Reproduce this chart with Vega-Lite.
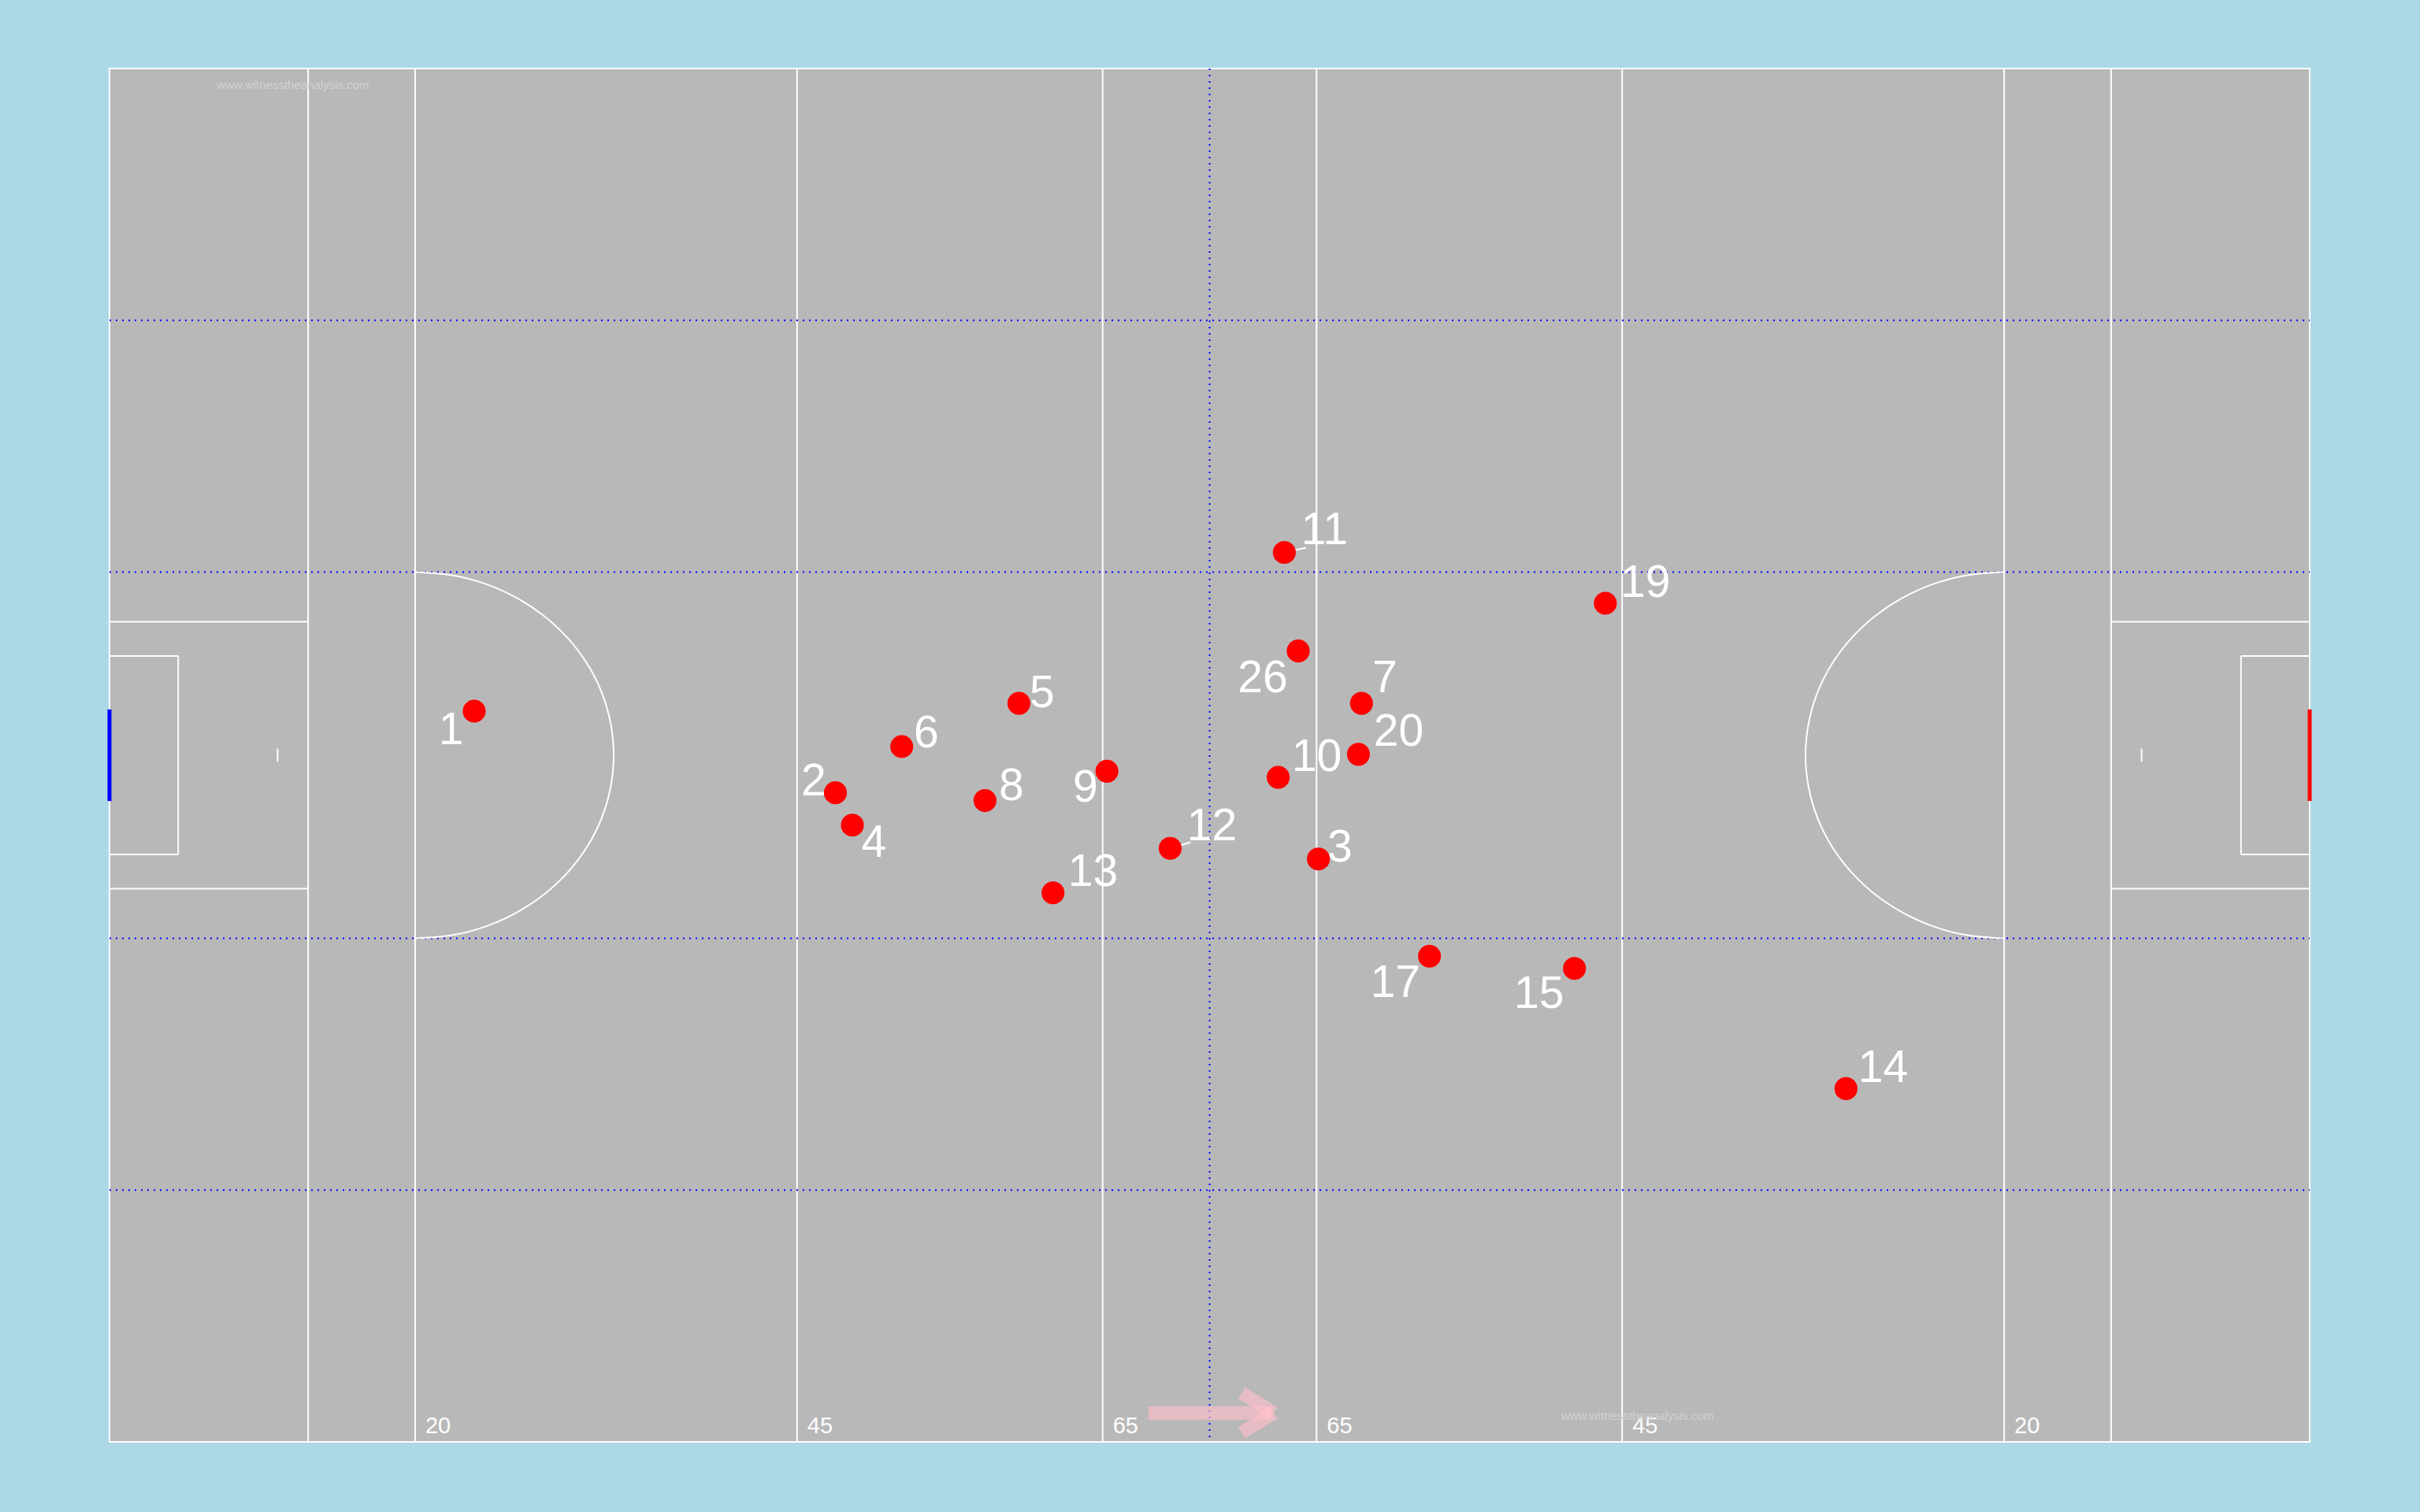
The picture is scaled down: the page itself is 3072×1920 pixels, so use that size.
{
  "$schema": "https://vega.github.io/schema/vega-lite/v6.json",
  "width": 2793,
  "height": 1744,
  "autosize": {"type": "none"},
  "padding": {"left": 139, "top": 87, "right": 140, "bottom": 89},
  "background": "#add8e6",
  "config": {
    "view": {"fill": "#b8b8b8", "stroke": "white", "strokeWidth": 2},
    "axis": {"disable": true},
    "legend": {"disable": true}
  },
  "datasets": {
    "solid": [
      {"x": 13, "y": 0, "x2": 13, "y2": 90},
      {"x": 20, "y": 0, "x2": 20, "y2": 90},
      {"x": 45, "y": 0, "x2": 45, "y2": 90},
      {"x": 65, "y": 0, "x2": 65, "y2": 90},
      {"x": 79, "y": 0, "x2": 79, "y2": 90},
      {"x": 99, "y": 0, "x2": 99, "y2": 90},
      {"x": 124, "y": 0, "x2": 124, "y2": 90},
      {"x": 131, "y": 0, "x2": 131, "y2": 90},
      {"x": 0, "y": 36.25, "x2": 13, "y2": 36.25},
      {"x": 0, "y": 53.75, "x2": 13, "y2": 53.75},
      {"x": 131, "y": 36.25, "x2": 144, "y2": 36.25},
      {"x": 131, "y": 53.75, "x2": 144, "y2": 53.75},
      {"x": 0, "y": 38.5, "x2": 4.5, "y2": 38.5},
      {"x": 0, "y": 51.5, "x2": 4.5, "y2": 51.5},
      {"x": 4.5, "y": 38.5, "x2": 4.5, "y2": 51.5},
      {"x": 139.5, "y": 38.5, "x2": 144, "y2": 38.5},
      {"x": 139.5, "y": 51.5, "x2": 144, "y2": 51.5},
      {"x": 139.5, "y": 38.5, "x2": 139.5, "y2": 51.5},
      {"x": 11, "y": 44.57, "x2": 11, "y2": 45.43},
      {"x": 133, "y": 44.57, "x2": 133, "y2": 45.43}
    ],
    "dotted": [
      {"x": 0, "y": 16.5, "x2": 144, "y2": 16.5},
      {"x": 0, "y": 33, "x2": 144, "y2": 33},
      {"x": 0, "y": 57, "x2": 144, "y2": 57},
      {"x": 0, "y": 73.5, "x2": 144, "y2": 73.5},
      {"x": 72, "y": 0, "x2": 72, "y2": 90}
    ],
    "arcs": [
      {"arc": "L", "i": 0, "x": 20, "y": 33},
      {"arc": "L", "i": 1, "x": 22.26, "y": 33.18},
      {"arc": "L", "i": 2, "x": 24.45, "y": 33.72},
      {"arc": "L", "i": 3, "x": 26.5, "y": 34.61},
      {"arc": "L", "i": 4, "x": 28.36, "y": 35.81},
      {"arc": "L", "i": 5, "x": 29.96, "y": 37.29},
      {"arc": "L", "i": 6, "x": 31.26, "y": 39},
      {"arc": "L", "i": 7, "x": 32.22, "y": 40.9},
      {"arc": "L", "i": 8, "x": 32.8, "y": 42.92},
      {"arc": "L", "i": 9, "x": 33, "y": 45},
      {"arc": "L", "i": 10, "x": 32.8, "y": 47.08},
      {"arc": "L", "i": 11, "x": 32.22, "y": 49.1},
      {"arc": "L", "i": 12, "x": 31.26, "y": 51},
      {"arc": "L", "i": 13, "x": 29.96, "y": 52.71},
      {"arc": "L", "i": 14, "x": 28.36, "y": 54.19},
      {"arc": "L", "i": 15, "x": 26.5, "y": 55.39},
      {"arc": "L", "i": 16, "x": 24.45, "y": 56.28},
      {"arc": "L", "i": 17, "x": 22.26, "y": 56.82},
      {"arc": "L", "i": 18, "x": 20, "y": 57},
      {"arc": "R", "i": 0, "x": 124, "y": 33},
      {"arc": "R", "i": 1, "x": 121.74, "y": 33.18},
      {"arc": "R", "i": 2, "x": 119.55, "y": 33.72},
      {"arc": "R", "i": 3, "x": 117.5, "y": 34.61},
      {"arc": "R", "i": 4, "x": 115.64, "y": 35.81},
      {"arc": "R", "i": 5, "x": 114.04, "y": 37.29},
      {"arc": "R", "i": 6, "x": 112.74, "y": 39},
      {"arc": "R", "i": 7, "x": 111.78, "y": 40.9},
      {"arc": "R", "i": 8, "x": 111.2, "y": 42.92},
      {"arc": "R", "i": 9, "x": 111, "y": 45},
      {"arc": "R", "i": 10, "x": 111.2, "y": 47.08},
      {"arc": "R", "i": 11, "x": 111.78, "y": 49.1},
      {"arc": "R", "i": 12, "x": 112.74, "y": 51},
      {"arc": "R", "i": 13, "x": 114.04, "y": 52.71},
      {"arc": "R", "i": 14, "x": 115.64, "y": 54.19},
      {"arc": "R", "i": 15, "x": 117.5, "y": 55.39},
      {"arc": "R", "i": 16, "x": 119.55, "y": 56.28},
      {"arc": "R", "i": 17, "x": 121.74, "y": 56.82},
      {"arc": "R", "i": 18, "x": 124, "y": 57}
    ],
    "goals": [
      {"side": "left", "x": 0, "y": 42, "y2": 48},
      {"side": "right", "x": 144, "y": 42, "y2": 48}
    ],
    "distances": [
      {"x": 20, "y": 89.45, "t": "20"},
      {"x": 45, "y": 89.45, "t": "45"},
      {"x": 65, "y": 89.45, "t": "65"},
      {"x": 79, "y": 89.45, "t": "65"},
      {"x": 99, "y": 89.45, "t": "45"},
      {"x": 124, "y": 89.45, "t": "20"}
    ],
    "watermarks": [
      {"x": 12, "y": 1.07, "t": "www.witnesstheanalysis.com"},
      {"x": 100, "y": 88.3, "t": "www.witnesstheanalysis.com"}
    ],
    "arrow": [
      {"x": 68.0, "y": 88.1, "x2": 76.0, "y2": 88.1},
      {"x": 74.1, "y": 86.8, "x2": 76.2, "y2": 88.1},
      {"x": 74.1, "y": 89.4, "x2": 76.2, "y2": 88.1}
    ],
    "leaders": [
      {"x": 76.89, "y": 31.71, "x2": 78.31, "y2": 31.4},
      {"x": 69.42, "y": 51.1, "x2": 70.76, "y2": 50.7}
    ],
    "players": [
      {"label": "1", "x": 23.87, "y": 42.11, "lx": 22.36, "ly": 43.42},
      {"label": "2", "x": 47.51, "y": 47.46, "lx": 46.09, "ly": 46.75},
      {"label": "3", "x": 79.12, "y": 51.8, "lx": 80.53, "ly": 51.1},
      {"label": "4", "x": 48.62, "y": 49.58, "lx": 50.03, "ly": 50.79},
      {"label": "5", "x": 59.52, "y": 41.6, "lx": 61.04, "ly": 41.0},
      {"label": "6", "x": 51.85, "y": 44.43, "lx": 53.46, "ly": 43.62},
      {"label": "7", "x": 81.94, "y": 41.6, "lx": 83.46, "ly": 39.99},
      {"label": "8", "x": 57.3, "y": 47.97, "lx": 59.02, "ly": 47.06},
      {"label": "9", "x": 65.28, "y": 46.05, "lx": 63.87, "ly": 47.16},
      {"label": "10", "x": 76.49, "y": 46.45, "lx": 79.01, "ly": 45.14},
      {"label": "11", "x": 76.89, "y": 31.71, "lx": 79.52, "ly": 30.29},
      {"label": "12", "x": 69.42, "y": 51.1, "lx": 72.15, "ly": 49.68},
      {"label": "13", "x": 61.75, "y": 54.02, "lx": 64.37, "ly": 52.71},
      {"label": "14", "x": 113.65, "y": 66.85, "lx": 116.08, "ly": 65.54},
      {"label": "15", "x": 95.88, "y": 58.97, "lx": 93.56, "ly": 60.69},
      {"label": "17", "x": 86.39, "y": 58.17, "lx": 84.16, "ly": 59.98},
      {"label": "19", "x": 97.9, "y": 35.04, "lx": 100.52, "ly": 33.73},
      {"label": "20", "x": 81.74, "y": 44.94, "lx": 84.37, "ly": 43.52},
      {"label": "26", "x": 77.8, "y": 38.17, "lx": 75.48, "ly": 39.99}
    ]
  },
  "layer": [
    {
      "data": {"name": "solid"},
      "mark": {"type": "rule", "color": "white", "strokeWidth": 2},
      "encoding": {
        "x": {"field": "x", "type": "quantitative", "scale": {"domain": [0, 144], "nice": false, "zero": false}},
        "y": {"field": "y", "type": "quantitative", "scale": {"domain": [0, 90], "nice": false, "zero": false, "reverse": true}},
        "x2": {"field": "x2"},
        "y2": {"field": "y2"}
      }
    },
    {
      "data": {"name": "dotted"},
      "mark": {"type": "rule", "color": "#0000ff", "strokeWidth": 2, "strokeDash": [2, 6]},
      "encoding": {
        "x": {"field": "x", "type": "quantitative"},
        "y": {"field": "y", "type": "quantitative"},
        "x2": {"field": "x2"},
        "y2": {"field": "y2"}
      }
    },
    {
      "data": {"name": "arcs"},
      "mark": {"type": "line", "color": "white", "strokeWidth": 2, "interpolate": "natural"},
      "encoding": {
        "x": {"field": "x", "type": "quantitative"},
        "y": {"field": "y", "type": "quantitative"},
        "detail": {"field": "arc"},
        "order": {"field": "i", "type": "quantitative"}
      }
    },
    {
      "data": {"name": "goals"},
      "mark": {"type": "rule", "strokeWidth": 5},
      "encoding": {
        "x": {"field": "x", "type": "quantitative"},
        "y": {"field": "y", "type": "quantitative"},
        "y2": {"field": "y2"},
        "color": {"field": "side", "type": "nominal", "scale": {"domain": ["left", "right"], "range": ["#0000ff", "#ff0000"]}, "legend": null}
      }
    },
    {
      "data": {"name": "distances"},
      "mark": {"type": "text", "color": "white", "font": "Liberation Sans", "fontSize": 29, "align": "left", "baseline": "alphabetic", "dx": 13},
      "encoding": {
        "x": {"field": "x", "type": "quantitative"},
        "y": {"field": "y", "type": "quantitative"},
        "text": {"field": "t"}
      }
    },
    {
      "data": {"name": "watermarks"},
      "mark": {"type": "text", "color": "#d2d2d2", "font": "Liberation Sans", "fontSize": 15, "align": "center", "baseline": "middle"},
      "encoding": {
        "x": {"field": "x", "type": "quantitative"},
        "y": {"field": "y", "type": "quantitative"},
        "text": {"field": "t"}
      }
    },
    {
      "data": {"name": "arrow"},
      "mark": {"type": "rule", "color": "pink", "opacity": 0.65, "strokeWidth": 17, "strokeCap": "butt"},
      "encoding": {
        "x": {"field": "x", "type": "quantitative"},
        "y": {"field": "y", "type": "quantitative"},
        "x2": {"field": "x2"},
        "y2": {"field": "y2"}
      }
    },
    {
      "data": {"name": "leaders"},
      "mark": {"type": "rule", "color": "white", "strokeWidth": 2},
      "encoding": {
        "x": {"field": "x", "type": "quantitative"},
        "y": {"field": "y", "type": "quantitative"},
        "x2": {"field": "x2"},
        "y2": {"field": "y2"}
      }
    },
    {
      "data": {"name": "players"},
      "mark": {"type": "circle", "color": "#ff0000", "opacity": 1, "size": 850},
      "encoding": {
        "x": {"field": "x", "type": "quantitative"},
        "y": {"field": "y", "type": "quantitative"}
      }
    },
    {
      "data": {"name": "players"},
      "mark": {"type": "text", "color": "white", "font": "Liberation Sans", "fontSize": 57, "align": "center", "baseline": "middle"},
      "encoding": {
        "x": {"field": "lx", "type": "quantitative"},
        "y": {"field": "ly", "type": "quantitative"},
        "text": {"field": "label"}
      }
    }
  ]
}
